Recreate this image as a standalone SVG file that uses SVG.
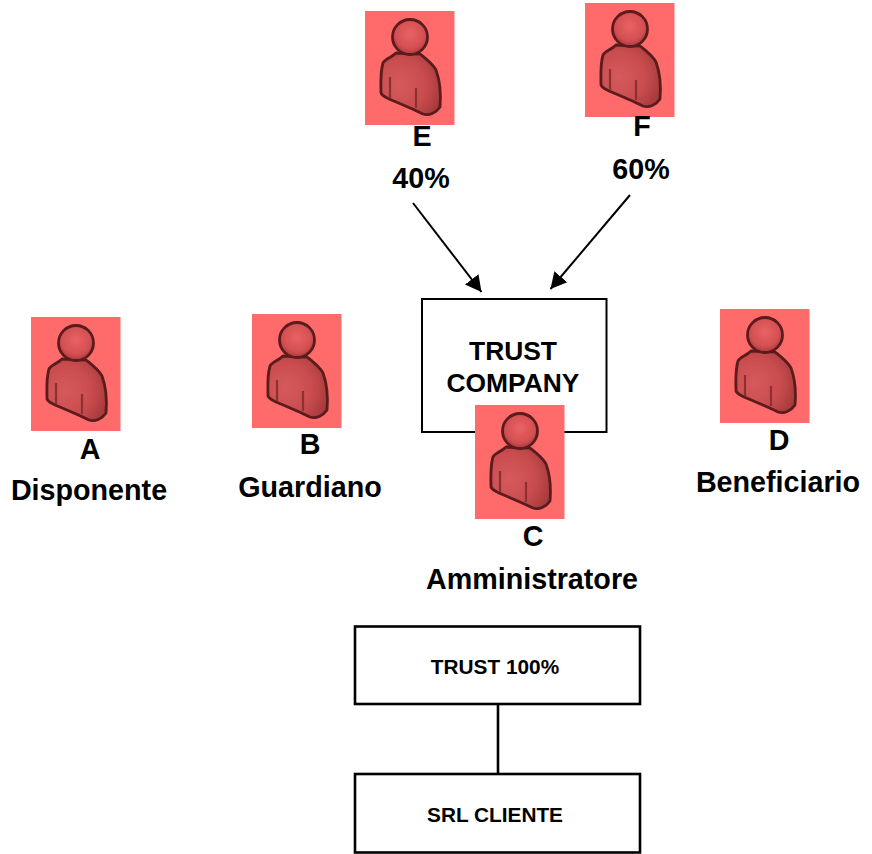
<svg xmlns="http://www.w3.org/2000/svg" width="872" height="854" viewBox="0 0 872 854">
<style>
text{font-family:"Liberation Sans",Arial,sans-serif;font-weight:700;fill:#000;text-anchor:middle}
.l{font-size:28.700px}
.t{font-size:26.400px}
.s{font-size:20.800px}
.b{fill:#fff;stroke:#000;stroke-width:2}
.b2{fill:#fff;stroke:#000;stroke-width:2.600}
.c{fill:none;stroke:#000;stroke-width:2}
.bg{fill:#ff6a6a}
.o{stroke:#5a1a1c;stroke-width:2.800;stroke-linejoin:round}
.i{fill:none;stroke:#8a3032;stroke-width:2.200}
</style>
<defs>
<filter id="soft" x="-10%" y="-10%" width="120%" height="120%"><feGaussianBlur stdDeviation="0.600"/></filter>
<radialGradient id="hg" cx=".5" cy=".42" r=".6"><stop offset="0" stop-color="#ea6264"/><stop offset=".7" stop-color="#d24f51"/><stop offset="1" stop-color="#a03436"/></radialGradient>
<radialGradient id="bg" gradientUnits="userSpaceOnUse" cx="34" cy="74" r="44"><stop offset="0" stop-color="#d65a5c"/><stop offset=".6" stop-color="#c94c4e"/><stop offset="1" stop-color="#a63a3b"/></radialGradient>
<marker id="ah" markerUnits="userSpaceOnUse" markerWidth="20" markerHeight="20" refX="16" refY="9" orient="auto"><path d="M0 0.500L16 9L0 17.500Z" fill="#000"/></marker>
<symbol id="person" width="90" height="114" viewBox="0 0 90 114" overflow="visible">
<rect class="bg" width="89.500" height="114"/>
<g filter="url(#soft)">
<path class="o" fill="url(#bg)" d="M31 42C26 47 20 48 18 52C15 62 16 74 16 82C17 85 21 86 24 88C36 93 48 98 58 103C64 105 71 102 75 96C76 84 75 70 71 59C67 52 60 47 55 43Z"/>
<path class="i" d="M25 66V87M51 77V97"/>
<circle class="o" fill="url(#hg)" cx="45" cy="26" r="17.500"/>
</g>
</symbol>
</defs>
<g id="connectors">
<line class="c" x1="413" y1="203" x2="481.500" y2="292" marker-end="url(#ah)"/>
<line class="c" x1="630" y1="195" x2="550.500" y2="289" marker-end="url(#ah)"/>
<line class="c" x1="498" y1="704" x2="498" y2="774" style="stroke-width:2.600"/>
</g>
<g id="node-e"><use href="#person" x="365" y="11"/><text class="l" x="422" y="146">E</text><text class="l" x="421" y="188">40%</text></g>
<g id="node-f"><use href="#person" x="585" y="3"/><text class="l" x="642" y="136">F</text><text class="l" x="641" y="179">60%</text></g>
<g id="node-trust-company"><rect class="b" x="422" y="299" width="184.500" height="133"/><text class="t" x="513" y="360">TRUST</text><text class="t" x="513" y="392">COMPANY</text></g>
<g id="node-a"><use href="#person" x="31" y="317"/><text class="l" x="90" y="459">A</text><text class="l" x="89" y="500">Disponente</text></g>
<g id="node-b"><use href="#person" x="252" y="314"/><text class="l" x="310" y="454">B</text><text class="l" x="310" y="497">Guardiano</text></g>
<g id="node-c"><use href="#person" x="475" y="405"/><text class="l" x="533" y="546">C</text><text class="l" x="532" y="589">Amministratore</text></g>
<g id="node-d"><use href="#person" x="720" y="309"/><text class="l" x="779" y="450">D</text><text class="l" x="778" y="492">Beneficiario</text></g>
<g id="node-trust"><rect class="b2" x="355" y="626.500" width="285" height="77.500"/><text class="s" x="495" y="674">TRUST 100%</text></g>
<g id="node-srl"><rect class="b2" x="355" y="774" width="285" height="78.500"/><text class="s" x="495" y="822">SRL CLIENTE</text></g>
</svg>
